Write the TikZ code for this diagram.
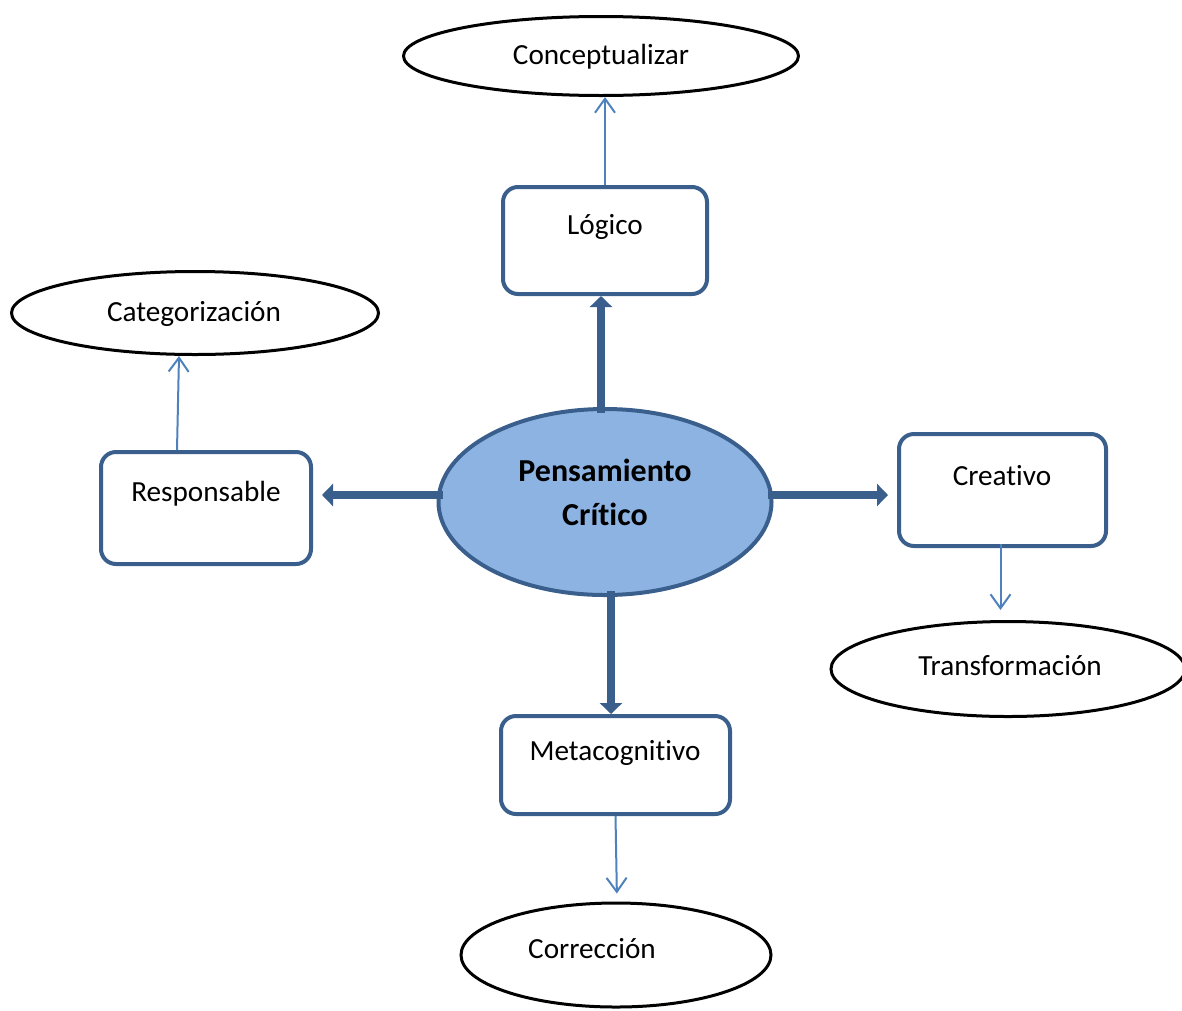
\documentclass[tikz,border=0pt]{standalone}
\usepackage{fontspec}
\setmainfont[Ligatures=NoCommon]{Carlito}
\usetikzlibrary{arrows.meta,shapes.geometric}
\definecolor{dkblue}{HTML}{3A5F8C}
\definecolor{fillblue}{HTML}{8DB3E2}
\definecolor{thinblue}{HTML}{4F81BD}
\begin{document}
\begin{tikzpicture}[x=1pt,y=-1pt,
  box/.style={draw=dkblue, line width=4pt, rounded corners=15pt, fill=white, inner sep=0pt},
  oval/.style={draw=black, line width=3pt, ellipse, inner sep=0pt, fill=white},
  lbl/.style={font=\fontsize{29.2}{35}\selectfont, inner sep=0pt, anchor=center},
  thickarrow/.style={draw=dkblue, line width=8pt, -{Triangle[length=11pt,width=22pt]}},
  thinarrow/.style={draw=thinblue, line width=2pt, -{Straight Barb[length=14pt,width=20pt]}}
]
\useasboundingbox (0,0) rectangle (1182,1010);
% ellipses
\node[oval, minimum width=395pt, minimum height=79pt] (cz) at (601,56) {};
\node[lbl] (czt) at (601,57) {Conceptualizar};
\node[oval, minimum width=367pt, minimum height=83pt] (ct) at (195,313) {};
\node[lbl] (ctt) at (194,314) {Categorización};
\node[oval, minimum width=354pt, minimum height=95pt] (tf) at (1008,669) {};
\node[lbl] (tft) at (1010,666) {Transformación};
\node[oval, minimum width=310pt, minimum height=104pt] (co) at (616,955) {};
\node[lbl] (cot) at (592,949) {Corrección};
% boxes
\node[box, minimum width=204pt, minimum height=107pt] (lg) at (605,240.5) {};
\node[lbl] (lgt) at (605,227) {Lógico};
\node[box, minimum width=210pt, minimum height=112pt] (rs) at (206,508) {};
\node[lbl] (rst) at (206,494) {Responsable};
\node[box, minimum width=207pt, minimum height=112pt] (cr) at (1002.5,490) {};
\node[lbl] (crt) at (1002,476) {Creativo};
\node[box, minimum width=229pt, minimum height=98pt] (mc) at (615.5,765) {};
\node[lbl] (mct) at (615,753) {Metacognitivo};
% central
\node[ellipse, draw=dkblue, line width=4pt, fill=fillblue, inner sep=0pt, minimum width=333pt, minimum height=186pt] (pc) at (605,502) {};
\node[font=\bfseries\fontsize{32}{44}\selectfont, align=center, inner sep=0pt] (pct) at (605,492) {Pensamiento\\Crítico};
% thick arrows
\draw[thickarrow] ([xshift=-4pt,yshift=-6pt]pc.north) -- ([xshift=-4pt]pc.north |- lg.south);
\draw[thickarrow, shorten >=9pt] ([yshift=7pt,xshift=6pt]pc.west) -- ([yshift=7pt]pc.west -| rs.east);
\draw[thickarrow, shorten >=9pt] ([yshift=7pt,xshift=-6pt]pc.east) -- ([yshift=7pt]pc.east -| cr.west);
\draw[thickarrow] ([xshift=6pt,yshift=6pt]pc.south) -- ([xshift=6pt]pc.south |- mc.north);
% thin arrows
\draw[thinarrow] (lg.north) -- (lg.north |- cz.south);
\draw[thinarrow] ([xshift=-29pt]rs.north) -- ([xshift=-16pt]ct.south);
\draw[thinarrow, shorten >=10pt] ([xshift=-2pt,yshift=4pt]cr.south) -- ([xshift=-2pt]cr.south |- tf.north);
\draw[thinarrow, shorten >=8pt] (mc.south) -- ([xshift=1pt]co.north);
\end{tikzpicture}
\end{document}
